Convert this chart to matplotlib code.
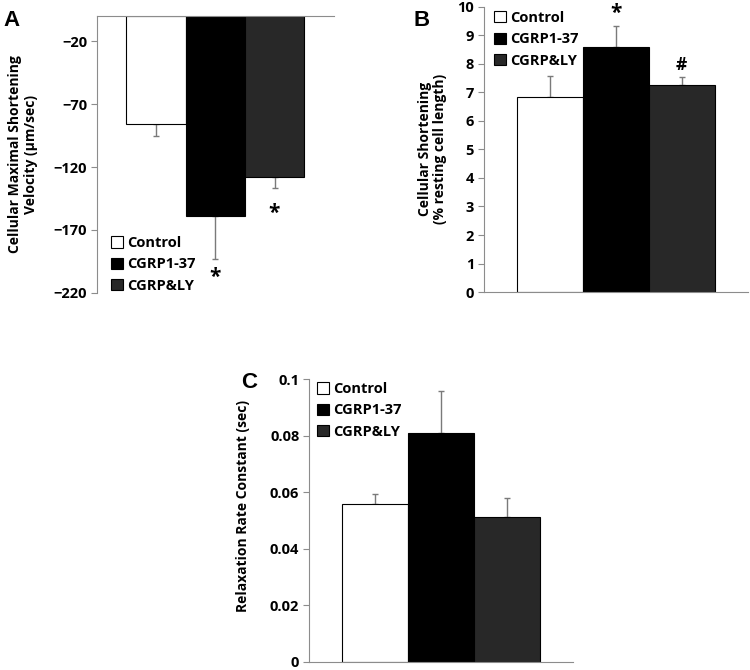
import matplotlib
matplotlib.use("Agg")
import matplotlib.pyplot as plt

# data
groups = ["Control", "CGRP1-37", "CGRP&LY"]
velocity = [-85.9, -158.9, -128.0]
velocity_err = [9.5, 34.0, 8.7]
shortening = [6.83, 8.59, 7.24]
shortening_err = [0.75, 0.75, 0.29]
relax = [0.0559, 0.0809, 0.0512]
relax_err = [0.0034, 0.0148, 0.0069]

bar_colors = ["white", "black", "#282828"]
axis_gray = "#8c8c8c"

plt.rcParams["font.family"] = ["Open Sans", "DejaVu Sans"]
plt.rcParams["font.weight"] = "bold"
plt.rcParams["font.size"] = 10

fig = plt.figure(figsize=(7.5, 6.7), dpi=100)


def style_axis(ax, spine="bottom"):
    for s in ["left", "right", "top", "bottom"]:
        ax.spines[s].set_visible(False)
    ax.spines["left"].set_visible(True)
    ax.spines[spine].set_visible(True)
    ax.spines["left"].set_color(axis_gray)
    ax.spines[spine].set_color(axis_gray)
    ax.tick_params(axis="y", direction="out", length=4, color=axis_gray, labelsize=10.5, pad=3)
    ax.tick_params(axis="x", length=0, labelbottom=False, labeltop=False)
    ax.set_xlim(-1, 3)
    for lab in ax.get_yticklabels():
        lab.set_fontweight("bold")


def draw_bars(ax, values, errs, negative=False):
    x = range(len(values))
    bars = ax.bar(x, values, width=1.0, color=bar_colors, edgecolor="black", linewidth=0.8,
                  label=groups, zorder=2)
    if negative:
        yerr = [errs, [0] * len(errs)]
    else:
        yerr = [[0] * len(errs), errs]
    ax.errorbar(x, values, yerr=yerr, fmt="none", ecolor="#7a7a7a", elinewidth=1.0,
                capsize=2, capthick=1.0, zorder=1)
    return bars


def add_legend(ax, anchor):
    ax.legend(loc="upper left", bbox_to_anchor=anchor, frameon=False, borderpad=0,
              borderaxespad=0, handlelength=0.8, handleheight=0.8, handletextpad=0.3,
              labelspacing=0.5, prop={"weight": "bold", "size": 10.5})


# Panel A
axA = fig.add_axes([0.129, 0.563, 0.316, 0.413])
draw_bars(axA, velocity, velocity_err, negative=True)
axA.set_ylim(-220, 0)
axA.set_yticks([-20, -70, -120, -170, -220])
style_axis(axA, spine="top")
axA.set_ylabel("Cellular Maximal Shortening\nVelocity (\u03bcm/sec)", fontweight="bold", linespacing=1.1)
axA.yaxis.set_label_coords(-0.25, 0.5)
add_legend(axA, (0.06, 0.205))
axA.text(1, -208, "*", ha="center", va="center", fontsize=15, fontweight="bold")
axA.text(2, -157, "*", ha="center", va="center", fontsize=15, fontweight="bold")
fig.text(0.005, 0.985, "A", fontsize=16, fontweight="bold", family="Liberation Sans", va="top")

# Panel B
axB = fig.add_axes([0.645, 0.564, 0.352, 0.426])
draw_bars(axB, shortening, shortening_err)
axB.set_ylim(0, 10)
axB.set_yticks(range(0, 11))
style_axis(axB)
axB.set_ylabel("Cellular Shortening\n(% resting cell length)", fontweight="bold", linespacing=1.1)
axB.yaxis.set_label_coords(-0.14, 0.5)
add_legend(axB, (0.04, 0.985))
axB.text(1, 9.75, "*", ha="center", va="center", fontsize=15, fontweight="bold")
axB.text(2, 7.95, "#", ha="center", va="center", fontsize=12.5, fontweight="bold")
fig.text(0.551, 0.985, "B", fontsize=16, fontweight="bold", family="Liberation Sans", va="top")

# Panel C
axC = fig.add_axes([0.412, 0.012, 0.352, 0.422])
draw_bars(axC, relax, relax_err)
axC.set_ylim(0, 0.1)
axC.set_yticks([0, 0.02, 0.04, 0.06, 0.08, 0.1])
axC.set_yticklabels(["0", "0.02", "0.04", "0.06", "0.08", "0.1"])
style_axis(axC)
axC.set_ylabel("Relaxation Rate Constant (sec)", fontweight="bold")
axC.yaxis.set_label_coords(-0.223, 0.55)
add_legend(axC, (0.03, 0.99))
fig.text(0.322, 0.445, "C", fontsize=16, fontweight="bold", family="Liberation Sans", va="top")

fig.savefig("out.png", dpi=100)
